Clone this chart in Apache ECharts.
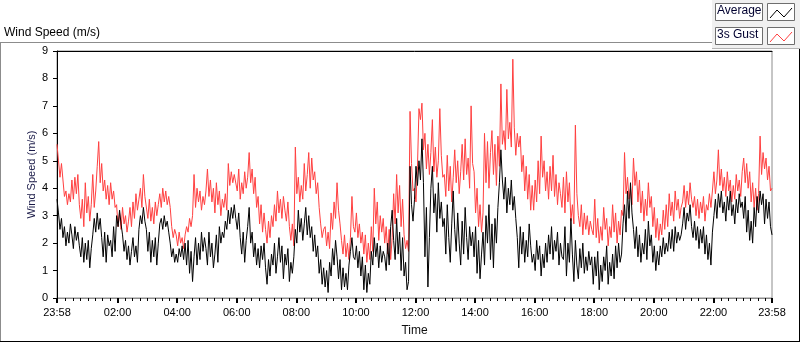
<!DOCTYPE html>
<html>
<head>
<meta charset="utf-8">
<script src="https://cdn.jsdelivr.net/npm/echarts@6/dist/echarts.min.js"></script>
<style>
html,body{margin:0;padding:0;background:#fff;}
#chart{width:800px;height:342px;}
</style>
</head>
<body>
<div id="chart"></div>
<script>
// Time step between samples, minutes after 23:58
const STEP = 3;

// Average wind speed (m/s), one value every 3 minutes from 23:58 to 23:58 (20 per hour)
const average = [
  3.6, 3.1, 2.5, 2.9, 2.2, 2.6, 1.9, 2.4, 2.0, 2.7, 2.3, 1.8, 2.6, 2.1, 2.4, 1.9, 1.5, 2.2, 1.3, 2.0,
  1.4, 2.1, 1.1, 1.8, 2.3, 2.9, 2.4, 3.1, 2.5, 2.9, 2.2, 1.5, 2.4, 1.3, 2.3, 1.9, 2.1, 1.5, 2.6, 1.7,
  3.0, 2.6, 3.2, 2.7, 2.3, 1.7, 2.1, 1.4, 1.9, 1.2, 1.7, 2.2, 1.5, 1.9, 1.3, 2.5, 3.0, 2.7, 3.3, 2.8,
  2.5, 1.7, 2.4, 1.3, 2.1, 1.5, 2.2, 1.2, 2.0, 2.7, 2.9, 2.5, 3.0, 2.6, 2.8, 2.4, 2.0, 1.5, 1.8, 1.3,
  1.6, 1.3, 1.8, 1.5, 1.9, 1.4, 2.0, 1.2, 2.1, 0.9, 1.7, 0.6, 1.5, 2.2, 1.2, 2.0, 1.4, 2.4, 1.7, 2.2,
  1.8, 1.2, 2.4, 1.5, 2.0, 1.1, 1.6, 2.3, 1.3, 2.6, 2.0, 2.4, 2.2, 2.8, 2.5, 3.2, 2.7, 3.3, 2.9, 3.4,
  2.9, 2.5, 3.1, 2.2, 1.6, 2.4, 1.3, 2.1, 2.6, 3.3, 2.0, 2.4, 1.5, 2.0, 1.2, 1.8, 1.1, 1.9, 1.4, 2.0,
  1.1, 0.5, 1.4, 0.8, 1.6, 1.2, 2.0, 0.9, 1.5, 2.2, 1.3, 1.9, 0.7, 1.6, 1.2, 1.8, 0.6, 1.3, 0.9, 1.5,
  2.5, 2.0, 3.2, 2.4, 2.9, 2.1, 2.7, 3.3, 2.3, 3.0, 2.2, 2.6, 1.7, 2.3, 1.5, 1.9, 0.9, 1.4, 0.5, 1.1,
  0.4, 1.0, 0.2, 1.3, 0.8, 1.8, 1.2, 2.1, 1.5, 0.7, 1.4, 0.3, 1.1, 0.4, 0.9, 0.3, 1.2, 1.7, 2.2, 1.5,
  1.4, 1.9, 1.1, 1.7, 0.8, 1.5, 0.3, 1.2, 0.2, 0.9, 0.5, 1.7, 1.2, 2.2, 1.5, 2.0, 1.1, 1.9, 1.3, 1.7,
  1.5, 1.0, 2.0, 1.2, 2.6, 3.2, 2.1, 1.4, 2.9, 1.6, 2.4, 1.0, 2.2, 0.8, 1.3, 0.3, 0.6, 4.8, 3.4, 2.8,
  3.6, 4.8, 4.1, 5.0, 4.3, 5.8, 4.2, 1.5, 3.3, 0.4, 2.2, 4.0, 4.8, 3.1, 3.8, 2.4, 4.2, 2.9, 3.5, 2.6,
  2.9, 1.6, 3.4, 2.2, 1.3, 2.7, 3.9, 2.5, 1.7, 3.1, 2.0, 1.2, 2.8, 1.6, 3.3, 2.2, 1.4, 2.6, 1.9, 2.4,
  1.5, 2.6, 0.9, 2.1, 0.7, 1.6, 2.4, 1.2, 3.0, 2.0, 3.4, 1.4, 2.7, 1.1, 2.9, 2.0, 3.3, 4.2, 5.4, 4.3,
  3.6, 4.4, 3.1, 4.0, 3.4, 4.3, 3.2, 3.7, 2.9, 2.2, 1.1, 2.6, 1.6, 2.4, 1.3, 2.1, 1.5, 2.7, 1.9, 1.3,
  1.6, 1.0, 2.1, 1.4, 1.9, 0.8, 1.6, 1.1, 2.0, 1.3, 2.3, 1.6, 2.6, 1.4, 2.1, 1.7, 2.4, 1.2, 2.0, 1.5,
  1.4, 2.6, 0.8, 2.0, 1.3, 2.9, 1.6, 0.6, 2.1, 1.2, 0.7, 1.8, 1.1, 2.0, 0.9, 1.5, 1.0, 1.7, 1.2, 1.5,
  0.5, 1.5, 0.8, 1.7, 0.3, 1.2, 0.6, 1.5, 1.0, 1.9, 0.5, 1.3, 0.8, 1.6, 0.7, 1.9, 1.1, 2.0, 1.3, 1.6,
  2.7, 3.4, 2.4, 3.9, 2.9, 4.2, 3.1, 2.5, 1.8, 2.6, 1.5, 2.3, 1.3, 2.0, 1.6, 2.5, 1.4, 2.8, 1.9, 2.3,
  1.3, 1.9, 1.0, 1.7, 1.2, 1.9, 1.5, 2.2, 1.6, 2.0, 1.7, 2.4, 1.8, 2.5, 1.7, 2.6, 2.0, 2.4, 2.1, 2.3,
  2.7, 3.3, 2.5, 3.1, 2.8, 3.4, 2.6, 2.2, 2.8, 2.1, 2.6, 1.8, 2.5, 2.0, 2.6, 1.6, 2.3, 1.4, 2.0, 1.2,
  2.4, 3.0, 3.6, 2.9, 3.8, 3.3, 3.9, 3.1, 3.5, 2.8, 3.7, 3.2, 3.9, 3.0, 3.4, 2.7, 3.6, 3.1, 3.8, 3.3,
  3.5, 2.9, 3.7, 2.4, 3.2, 2.1, 2.8, 2.0, 3.3, 2.6, 3.7, 3.1, 3.9, 3.4, 3.8, 2.7, 3.6, 2.9, 3.5, 2.6,
  2.3
];

// 3 s gust wind speed (m/s), same sampling
const gust = [
  5.6, 5.0, 4.4, 4.9, 4.3, 3.7, 3.9, 3.4, 3.8, 3.5, 4.3, 3.6, 4.4, 3.8, 4.5, 3.4, 2.9, 3.6, 2.6, 4.2,
  3.1, 3.7, 2.8, 3.4, 4.5, 3.3, 3.9, 4.8, 5.7, 4.2, 4.9, 3.9, 4.3, 3.6, 4.1, 3.4, 4.2, 3.6, 3.9, 3.3,
  3.4, 2.6, 3.1, 2.5, 3.3, 2.7, 3.0, 2.4, 2.8, 3.3, 2.6, 3.5, 2.9, 3.8, 3.2, 3.6, 4.0, 3.3, 4.5, 3.7,
  3.7, 2.9, 3.6, 2.8, 3.3, 2.7, 3.5, 3.0, 3.4, 3.8, 3.3, 4.0, 3.5, 3.9, 3.4, 3.7, 3.3, 2.6, 2.2, 2.5,
  2.3, 1.9, 2.4, 2.0, 2.2, 1.8, 2.3, 2.6, 2.4, 2.9, 2.6, 3.0, 4.5, 3.3, 4.0, 3.5, 3.9, 3.2, 3.7, 3.4,
  3.9, 4.7, 3.7, 4.3, 3.5, 4.0, 3.1, 4.2, 3.4, 3.9, 3.0, 3.6, 3.3, 3.8, 3.2, 4.9, 4.1, 4.6, 4.2, 4.5,
  4.5, 3.9, 4.7, 3.6, 4.2, 3.8, 4.6, 4.0, 4.4, 5.3, 4.2, 4.7, 3.8, 4.4, 3.3, 3.7, 2.7, 3.4, 2.4, 3.1,
  2.5, 2.0, 2.8, 2.2, 3.0, 2.6, 3.4, 2.8, 3.9, 3.1, 3.6, 2.9, 3.7, 3.2, 2.8, 3.5, 2.6, 2.1, 2.7, 1.9,
  5.5, 3.8, 4.4, 3.5, 4.1, 3.6, 4.9, 3.9, 4.5, 5.3, 4.0, 5.1, 4.3, 4.6, 3.8, 4.2, 3.3, 2.7, 2.2, 2.5,
  2.6, 1.9, 2.4, 1.8, 3.1, 2.5, 3.5, 2.9, 4.2, 3.2, 2.7, 2.1, 1.6, 2.3, 1.5, 2.0, 1.4, 2.2, 3.7, 2.6,
  2.4, 3.1, 2.2, 2.7, 2.0, 2.4, 1.6, 2.3, 1.3, 2.0, 1.4, 2.6, 1.7, 4.0, 2.7, 3.5, 2.1, 3.0, 2.4, 2.9,
  2.0, 2.6, 1.6, 2.5, 1.4, 2.2, 3.8, 2.7, 4.5, 3.1, 4.1, 2.6, 3.6, 2.3, 1.8, 2.1, 1.7, 6.8, 4.9, 3.9,
  4.0, 3.5, 4.8, 6.9, 6.5, 7.1, 5.4, 6.0, 4.7, 5.6, 4.5, 5.3, 6.5, 4.6, 5.5, 4.4, 5.0, 6.9, 5.2, 4.4,
  4.5, 3.7, 5.2, 3.9, 4.8, 3.5, 4.4, 5.4, 4.2, 5.0, 3.8, 4.6, 5.6, 4.3, 5.8, 4.5, 5.1, 4.0, 7.0, 4.9,
  4.6, 3.1, 4.0, 2.6, 3.4, 2.4, 3.1, 6.0, 4.2, 5.7, 4.0, 5.3, 6.1, 4.5, 5.6, 4.1, 5.9, 4.8, 7.8, 5.6,
  6.1, 5.4, 7.6, 5.8, 6.4, 5.5, 8.7, 6.2, 5.2, 6.0, 5.5, 5.9, 4.6, 5.2, 3.9, 4.8, 3.6, 4.5, 3.2, 4.1,
  3.2, 4.3, 3.5, 5.0, 3.8, 5.9, 4.4, 5.0, 3.9, 4.6, 3.6, 4.8, 3.9, 5.2, 3.7, 4.5, 3.4, 4.2, 3.8, 3.3,
  4.4, 3.1, 4.6, 3.5, 4.2, 2.8, 3.4, 2.7, 6.3, 3.8, 3.0, 2.6, 3.4, 2.3, 3.1, 2.5, 3.0, 2.3, 2.8, 2.5,
  2.3, 3.6, 2.2, 2.9, 2.0, 2.6, 2.1, 3.3, 2.5, 2.9, 1.9, 2.6, 2.2, 3.4, 2.4, 3.1, 2.0, 2.8, 2.3, 3.2,
  3.0, 5.3, 3.8, 4.4, 3.6, 4.0, 3.4, 5.1, 4.1, 4.6, 3.5, 4.3, 3.1, 3.9, 2.8, 3.6, 3.0, 4.2, 3.3, 3.7,
  2.6, 3.3, 2.2, 2.9, 2.1, 2.7, 2.3, 3.2, 2.5, 3.4, 2.6, 3.8, 3.0, 3.5, 2.8, 3.9, 3.2, 3.6, 2.9, 3.3,
  3.5, 4.1, 3.3, 3.9, 3.4, 4.2, 3.6, 3.3, 3.7, 3.0, 3.6, 2.9, 3.5, 3.1, 3.7, 2.8, 3.4, 3.2, 3.8, 3.3,
  3.9, 4.6, 3.8, 4.3, 5.4, 4.1, 4.7, 3.9, 4.4, 3.7, 4.6, 3.9, 4.3, 3.5, 4.1, 3.6, 4.5, 3.9, 4.3, 3.7,
  4.6, 5.1, 4.2, 4.9, 4.0, 4.6, 3.5, 4.2, 3.3, 4.0, 3.2, 3.8, 5.9, 4.5, 5.3, 4.7, 5.1, 4.3, 4.8, 3.9,
  4.0
];

// Time axis: major tick positions (minutes after 23:58) and their labels
const majorTicks = [0, 122, 242, 362, 482, 602, 722, 842, 962, 1082, 1202, 1322, 1440];
const tickLabels = ['23:58', '02:00', '04:00', '06:00', '08:00', '10:00', '12:00', '14:00', '16:00', '18:00', '20:00', '22:00', '23:58'];
// minor ticks every quarter hour (clock time)
const minorTicks = [];
for (let m = 17; m < 1440; m += 15) { if (majorTicks.indexOf(m) < 0) minorTicks.push(m); }

const yTicks = [0, 1, 2, 3, 4, 5, 6, 7, 8, 9];

const FONT = 'Liberation Sans';
const chart = echarts.init(document.getElementById('chart'), null, {renderer: 'canvas'});

const G = {left: 57, top: 51, width: 715, height: 252};

chart.setOption({
  animation: false,
  backgroundColor: '#ffffff',
  textStyle: {fontFamily: FONT},
  grid: {left: G.left, top: G.top, width: G.width, height: G.height, show: true, borderColor: '#8c8c8c', borderWidth: 1, backgroundColor: '#ffffff'},
  xAxis: [
    {
      type: 'value', min: 0, max: 1440, position: 'bottom',
      name: 'Time', nameLocation: 'middle', nameGap: 27, nameMoveOverlap: false,
      nameTextStyle: {color: '#101010', fontSize: 12, fontFamily: FONT},
      axisLine: {show: true, lineStyle: {color: '#8c8c8c', width: 1}},
      axisTick: {show: true, customValues: majorTicks, length: 5, lineStyle: {color: '#000', width: 2}},
      axisLabel: {show: true, customValues: majorTicks, showMinLabel: true, showMaxLabel: true, margin: 9,
        color: '#000', fontSize: 11, fontFamily: FONT,
        formatter: function (v) { const i = majorTicks.indexOf(Math.round(v)); return i >= 0 ? tickLabels[i] : ''; }},
      splitLine: {show: false}
    },
    {
      type: 'value', min: 0, max: 1440, position: 'bottom',
      axisLine: {show: false},
      axisTick: {show: true, customValues: minorTicks, length: 3, lineStyle: {color: '#000', width: 1}},
      axisLabel: {show: false},
      splitLine: {show: false}
    },
    {
      type: 'value', min: 0, max: 1440, position: 'top',
      axisLine: {show: true, lineStyle: {color: '#000', width: 1}},
      axisTick: {show: false}, axisLabel: {show: false}, splitLine: {show: false}
    }
  ],
  yAxis: {
    type: 'value', min: 0, max: 9, interval: 1,
    name: 'Wind Speed (m/s)', nameLocation: 'middle', nameGap: 20, nameRotate: 90, nameMoveOverlap: false,
    nameTextStyle: {color: '#1a1a48', fontSize: 11, fontFamily: FONT},
    axisLine: {show: true, lineStyle: {color: '#000', width: 1}},
    axisTick: {show: true, length: 4, lineStyle: {color: '#000'}},
    axisLabel: {color: '#000', fontSize: 11, fontFamily: FONT, margin: 9,
      formatter: function (v) { return String(yTicks[Math.round(v)]); }},
    splitLine: {show: false}
  },
  legend: {show: false},
  series: [
    {
      name: '3s Gust', type: 'line', xAxisIndex: 0, symbol: 'none', sampling: null,
      lineStyle: {color: '#ff4040', width: 1}, itemStyle: {color: '#ff4040'},
      data: gust.map(function (v, i) { return [i * STEP, v]; }), z: 2
    },
    {
      name: 'Average', type: 'line', xAxisIndex: 0, symbol: 'none', sampling: null,
      lineStyle: {color: '#000000', width: 1}, itemStyle: {color: '#000000'},
      data: average.map(function (v, i) { return [i * STEP, v]; }), z: 3
    }
  ],
  graphic: [
    // outer frame
    {type: 'line', silent: true, shape: {x1: 0, y1: 42.5, x2: 712, y2: 42.5}, style: {stroke: '#8c8c8c', lineWidth: 1}},
    {type: 'line', silent: true, shape: {x1: 0.5, y1: 42, x2: 0.5, y2: 342}, style: {stroke: '#8c8c8c', lineWidth: 1}},
    {type: 'line', silent: true, shape: {x1: 0, y1: 341.5, x2: 800, y2: 341.5}, style: {stroke: '#000', lineWidth: 1}},
    {type: 'line', silent: true, shape: {x1: 799.5, y1: 49, x2: 799.5, y2: 342}, style: {stroke: '#000', lineWidth: 1}},
    // title
    {type: 'text', silent: true, left: 4, top: 27, style: {text: 'Wind Speed (m/s)', fontSize: 12, fontFamily: FONT, fill: '#000'}},
    // legend panel
    {type: 'rect', silent: true, shape: {x: 712, y: 0, width: 88, height: 49}, style: {fill: '#f0f0f0', stroke: null}},
    {type: 'line', silent: true, shape: {x1: 712, y1: 48.5, x2: 800, y2: 48.5}, style: {stroke: '#b4b4b4', lineWidth: 1}},
    {type: 'rect', silent: true, shape: {x: 715.5, y: 3.5, width: 47, height: 17}, style: {fill: '#fff', stroke: '#6e6e6e', lineWidth: 1}},
    {type: 'text', silent: true, left: 717, top: 5, style: {text: 'Average', fontSize: 12, fontFamily: FONT, fill: '#000030'}},
    {type: 'rect', silent: true, shape: {x: 767.5, y: 3.5, width: 27, height: 17}, style: {fill: '#fff', stroke: '#6e6e6e', lineWidth: 1}},
    {type: 'polyline', silent: true, shape: {points: [[770, 18], [777, 10], [784, 17], [792, 8]]}, style: {stroke: '#000', lineWidth: 1, fill: null}},
    {type: 'rect', silent: true, shape: {x: 715.5, y: 27.5, width: 47, height: 17}, style: {fill: '#fff', stroke: '#6e6e6e', lineWidth: 1}},
    {type: 'text', silent: true, left: 717, top: 29, style: {text: '3s Gust', fontSize: 12, fontFamily: FONT, fill: '#000030'}},
    {type: 'rect', silent: true, shape: {x: 767.5, y: 27.5, width: 27, height: 17}, style: {fill: '#fff', stroke: '#6e6e6e', lineWidth: 1}},
    {type: 'polyline', silent: true, shape: {points: [[770, 42], [777, 34], [784, 41], [792, 32]]}, style: {stroke: '#ff4040', lineWidth: 1, fill: null}}
  ]
});
</script>
</body>
</html>
